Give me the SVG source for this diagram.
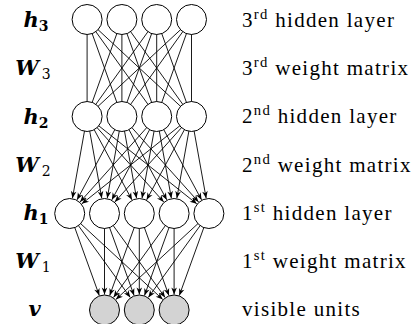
<svg xmlns="http://www.w3.org/2000/svg" width="419" height="324" viewBox="0 0 419 324">
  <style>
    .unit { fill: #ffffff; stroke: #000000; stroke-width: 1; }
    .vis { fill: #d3d3d3; stroke: #000000; stroke-width: 1; }
    .w { stroke: #000000; stroke-width: 0.9; fill: none; }
    .arr { marker-end: url(#tip); }
    .math { font-family: "DejaVu Serif", "Liberation Serif", serif; font-size: 21px; font-weight: bold; font-style: italic; fill: #000; }
    .sb { font-size: 14px; font-style: normal; font-weight: bold; }
    .sr { font-size: 14px; font-style: normal; font-weight: normal; }
    .lbl { font-family: "Liberation Serif", "Times New Roman", serif; font-size: 21px; letter-spacing: 1.3px; fill: #000; }
    .sup { font-size: 14.7px; }
  </style>
  <defs>
    <marker id="tip" markerUnits="userSpaceOnUse" markerWidth="10" markerHeight="10" refX="0" refY="0" orient="auto" overflow="visible">
      <path d="M0,0 L-7,-2.8 L-5,0 L-7,2.8 Z" fill="#000"/>
    </marker>
  </defs>

  <!-- weights between layers -->
  <g id="connectors">
    <!-- W3: h3 to h2 (undirected) -->
    <g class="w">
      <line x1="87.1" y1="19.5" x2="87.1" y2="116.5"/>
      <line x1="87.1" y1="19.5" x2="121.9" y2="116.5"/>
      <line x1="87.1" y1="19.5" x2="156.7" y2="116.5"/>
      <line x1="87.1" y1="19.5" x2="191.5" y2="116.5"/>
      <line x1="121.9" y1="19.5" x2="87.1" y2="116.5"/>
      <line x1="121.9" y1="19.5" x2="121.9" y2="116.5"/>
      <line x1="121.9" y1="19.5" x2="156.7" y2="116.5"/>
      <line x1="121.9" y1="19.5" x2="191.5" y2="116.5"/>
      <line x1="156.7" y1="19.5" x2="87.1" y2="116.5"/>
      <line x1="156.7" y1="19.5" x2="121.9" y2="116.5"/>
      <line x1="156.7" y1="19.5" x2="156.7" y2="116.5"/>
      <line x1="156.7" y1="19.5" x2="191.5" y2="116.5"/>
      <line x1="191.5" y1="19.5" x2="87.1" y2="116.5"/>
      <line x1="191.5" y1="19.5" x2="121.9" y2="116.5"/>
      <line x1="191.5" y1="19.5" x2="156.7" y2="116.5"/>
      <line x1="191.5" y1="19.5" x2="191.5" y2="116.5"/>
    </g>
    <!-- W2: h2 to h1 (directed) -->
    <g class="w arr">
      <line x1="87.1" y1="116.5" x2="72.44" y2="198.24"/>
      <line x1="87.1" y1="116.5" x2="101.76" y2="198.24"/>
      <line x1="87.1" y1="116.5" x2="131.95" y2="199.85"/>
      <line x1="87.1" y1="116.5" x2="163.75" y2="201.96"/>
      <line x1="87.1" y1="116.5" x2="196.78" y2="203.84"/>
      <line x1="121.9" y1="116.5" x2="77.05" y2="199.85"/>
      <line x1="121.9" y1="116.5" x2="107.24" y2="198.24"/>
      <line x1="121.9" y1="116.5" x2="136.56" y2="198.24"/>
      <line x1="121.9" y1="116.5" x2="166.75" y2="199.85"/>
      <line x1="121.9" y1="116.5" x2="198.55" y2="201.96"/>
      <line x1="156.7" y1="116.5" x2="80.05" y2="201.96"/>
      <line x1="156.7" y1="116.5" x2="111.85" y2="199.85"/>
      <line x1="156.7" y1="116.5" x2="142.04" y2="198.24"/>
      <line x1="156.7" y1="116.5" x2="171.36" y2="198.24"/>
      <line x1="156.7" y1="116.5" x2="201.55" y2="199.85"/>
      <line x1="191.5" y1="116.5" x2="81.82" y2="203.84"/>
      <line x1="191.5" y1="116.5" x2="114.85" y2="201.96"/>
      <line x1="191.5" y1="116.5" x2="146.65" y2="199.85"/>
      <line x1="191.5" y1="116.5" x2="176.84" y2="198.24"/>
      <line x1="191.5" y1="116.5" x2="206.16" y2="198.24"/>
    </g>
    <!-- W1: h1 to v (directed) -->
    <g class="w arr">
      <line x1="69.7" y1="213.5" x2="99.27" y2="295.41"/>
      <line x1="69.7" y1="213.5" x2="130.26" y2="297.41"/>
      <line x1="69.7" y1="213.5" x2="162.74" y2="299.45"/>
      <line x1="104.5" y1="213.5" x2="104.5" y2="294.5"/>
      <line x1="104.5" y1="213.5" x2="134.07" y2="295.41"/>
      <line x1="104.5" y1="213.5" x2="165.06" y2="297.41"/>
      <line x1="139.3" y1="213.5" x2="109.73" y2="295.41"/>
      <line x1="139.3" y1="213.5" x2="139.3" y2="294.5"/>
      <line x1="139.3" y1="213.5" x2="168.87" y2="295.41"/>
      <line x1="174.1" y1="213.5" x2="113.54" y2="297.41"/>
      <line x1="174.1" y1="213.5" x2="144.53" y2="295.41"/>
      <line x1="174.1" y1="213.5" x2="174.1" y2="294.5"/>
      <line x1="208.9" y1="213.5" x2="115.86" y2="299.45"/>
      <line x1="208.9" y1="213.5" x2="148.34" y2="297.41"/>
      <line x1="208.9" y1="213.5" x2="179.33" y2="295.41"/>
    </g>
  </g>

  <!-- third hidden layer -->
  <g id="h3">
    <circle id="h3-1" class="unit" cx="87.1" cy="19.5" r="15"/>
    <circle id="h3-2" class="unit" cx="121.9" cy="19.5" r="15"/>
    <circle id="h3-3" class="unit" cx="156.7" cy="19.5" r="15"/>
    <circle id="h3-4" class="unit" cx="191.5" cy="19.5" r="15"/>
  </g>
  <!-- second hidden layer -->
  <g id="h2">
    <circle id="h2-1" class="unit" cx="87.1" cy="116.5" r="15"/>
    <circle id="h2-2" class="unit" cx="121.9" cy="116.5" r="15"/>
    <circle id="h2-3" class="unit" cx="156.7" cy="116.5" r="15"/>
    <circle id="h2-4" class="unit" cx="191.5" cy="116.5" r="15"/>
  </g>
  <!-- first hidden layer -->
  <g id="h1">
    <circle id="h1-1" class="unit" cx="69.7" cy="213.5" r="15"/>
    <circle id="h1-2" class="unit" cx="104.5" cy="213.5" r="15"/>
    <circle id="h1-3" class="unit" cx="139.3" cy="213.5" r="15"/>
    <circle id="h1-4" class="unit" cx="174.1" cy="213.5" r="15"/>
    <circle id="h1-5" class="unit" cx="208.9" cy="213.5" r="15"/>
  </g>
  <!-- visible layer -->
  <g id="v">
    <circle id="v-1" class="vis" cx="104.5" cy="310" r="15"/>
    <circle id="v-2" class="vis" cx="139.3" cy="310" r="15"/>
    <circle id="v-3" class="vis" cx="174.1" cy="310" r="15"/>
  </g>

  <!-- symbols on the left -->
  <g id="symbols">
    <text class="math" x="36" y="27" text-anchor="middle">h<tspan class="sb" dy="4">3</tspan></text>
    <text class="math" x="33" y="75" text-anchor="middle">W<tspan class="sr" dx="3" dy="4">3</tspan></text>
    <text class="math" x="36" y="124" text-anchor="middle">h<tspan class="sb" dy="4">2</tspan></text>
    <text class="math" x="33" y="172" text-anchor="middle">W<tspan class="sr" dx="3" dy="4">2</tspan></text>
    <text class="math" x="36" y="220" text-anchor="middle">h<tspan class="sb" dy="4">1</tspan></text>
    <text class="math" x="33" y="268" text-anchor="middle">W<tspan class="sr" dx="3" dy="4">1</tspan></text>
    <text class="math" x="34.5" y="316" text-anchor="middle">v</text>
  </g>

  <!-- descriptions on the right -->
  <g id="descriptions">
    <text class="lbl" x="242" y="26.5">3<tspan class="sup" dy="-8">rd</tspan><tspan dy="8"> hidden layer</tspan></text>
    <text class="lbl" x="242" y="74.5">3<tspan class="sup" dy="-8">rd</tspan><tspan dy="8"> weight matrix</tspan></text>
    <text class="lbl" x="242" y="123">2<tspan class="sup" dy="-8">nd</tspan><tspan dy="8"> hidden layer</tspan></text>
    <text class="lbl" x="242" y="171.5">2<tspan class="sup" dy="-8">nd</tspan><tspan dy="8"> weight matrix</tspan></text>
    <text class="lbl" x="242" y="220">1<tspan class="sup" dy="-8">st</tspan><tspan dy="8"> hidden layer</tspan></text>
    <text class="lbl" x="242" y="268">1<tspan class="sup" dy="-8">st</tspan><tspan dy="8"> weight matrix</tspan></text>
    <text class="lbl" x="242" y="316">visible units</text>
  </g>
</svg>
